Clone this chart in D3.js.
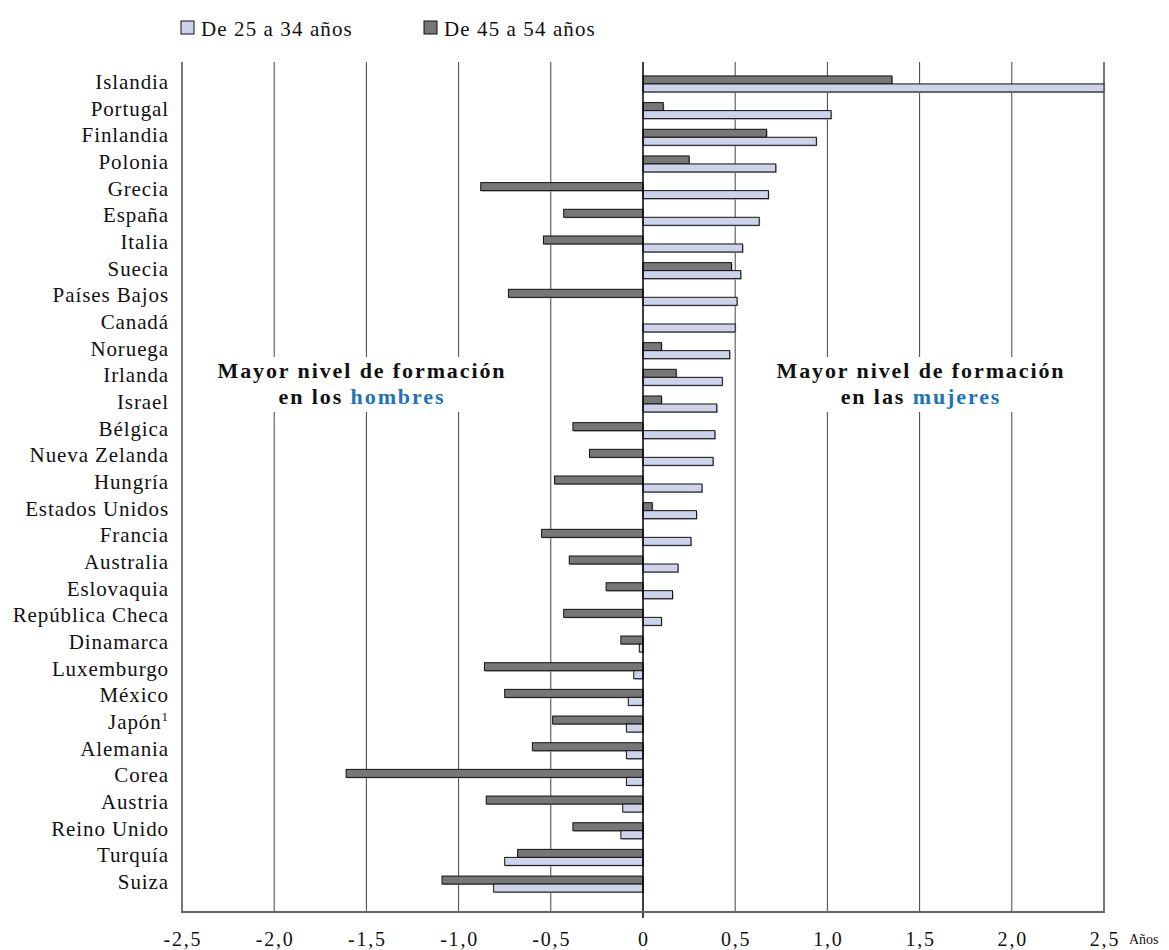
<!DOCTYPE html>
<html><head><meta charset="utf-8">
<script src="https://cdn.jsdelivr.net/npm/d3@7"></script>
<style>body{margin:0;background:#fff} text{font-family:"Liberation Serif","Times New Roman","DejaVu Serif",serif}</style>
</head><body>
<svg id="chart" width="1169" height="950"></svg>
<script>
const categories = ["Islandia","Portugal","Finlandia","Polonia","Grecia","España","Italia","Suecia","Países Bajos","Canadá","Noruega","Irlanda","Israel","Bélgica","Nueva Zelanda","Hungría","Estados Unidos","Francia","Australia","Eslovaquia","República Checa","Dinamarca","Luxemburgo","México","Japón¹","Alemania","Corea","Austria","Reino Unido","Turquía","Suiza"];
const young = [2.5,1.02,0.94,0.72,0.68,0.63,0.54,0.53,0.51,0.50,0.47,0.43,0.40,0.39,0.38,0.32,0.29,0.26,0.19,0.16,0.10,-0.02,-0.05,-0.08,-0.09,-0.09,-0.09,-0.11,-0.12,-0.75,-0.81];
const older = [1.35,0.11,0.67,0.25,-0.88,-0.43,-0.54,0.48,-0.73,0,0.10,0.18,0.10,-0.38,-0.29,-0.48,0.05,-0.55,-0.40,-0.20,-0.43,-0.12,-0.86,-0.75,-0.49,-0.60,-1.61,-0.85,-0.38,-0.68,-1.09];
const ticks = [-2.5,-2,-1.5,-1,-0.5,0,0.5,1,1.5,2,2.5];
const tickLabels = ["-2,5","-2,0","-1,5","-1,0","-0,5","0","0,5","1,0","1,5","2,0","2,5"];
const seriesNames = ["De 25 a 34 años","De 45 a 54 años"];

(function(){
const svg = d3.select("#chart");
const x = d3.scaleLinear().domain([-2.5,2.5]).range([182,1104]);
const y = d3.scaleBand().domain(categories).range([70.6,897.4]);
const plotTop = 62, plotBottom = 912;
const light = "#cdd3ea", dark = "#777777";

// gridlines
svg.append("g").selectAll("line").data(ticks.filter(t=>t!==0)).join("line")
  .attr("x1",d=>x(d)).attr("x2",d=>x(d)).attr("y1",plotTop).attr("y2",plotBottom)
  .attr("stroke",d=>(d===-2.5||d===2.5)?"#777":"#444").attr("stroke-width",d=>(d===-2.5||d===2.5)?2:1);

// annotations with white background
function annot(cx, word){
  const g = svg.append("g");
  g.append("rect").attr("x",cx-150).attr("y",357).attr("width",300).attr("height",55).attr("fill","#fff");
  g.append("text").attr("x",cx+1).attr("y",378).attr("text-anchor","middle")
    .attr("font-weight","bold").attr("font-size",22).attr("letter-spacing",1.9).attr("fill","#111").text("Mayor nivel de formación");
  const t2 = g.append("text").attr("x",cx+1).attr("y",404).attr("text-anchor","middle")
    .attr("font-weight","bold").attr("font-size",22).attr("letter-spacing",1.9).attr("fill","#111");
  t2.append("tspan").text(word[0]);
  t2.append("tspan").attr("fill","#1f73b7").text(word[1]);
}
annot(361, ["en los ","hombres"]);
annot(920, ["en las ","mujeres"]);

// bars
const bh = 8;
const gb = svg.append("g");
function bars(vals, color, off){
  const data = categories.map((c,i)=>({c, v: vals[i]})).filter(d=>d.v!==0);
  gb.append("g").selectAll("rect").data(data).join("rect")
    .attr("x",d=>Math.min(x(0),x(d.v))+1).attr("y",d=>y(d.c)+y.bandwidth()/2+off+1)
    .attr("width",d=>Math.abs(x(d.v)-x(0))).attr("height",bh)
    .attr("fill","#aaa");
  gb.append("g").selectAll("rect").data(data).join("rect")
    .attr("x",d=>Math.min(x(0),x(d.v))).attr("y",d=>y(d.c)+y.bandwidth()/2+off)
    .attr("width",d=>Math.abs(x(d.v)-x(0))).attr("height",bh)
    .attr("fill",color).attr("stroke","#111").attr("stroke-width",1);
}
bars(older, dark, -bh);
bars(young, light, 0);

// zero line
svg.append("line").attr("x1",x(0)).attr("x2",x(0)).attr("y1",plotTop).attr("y2",plotBottom+6)
  .attr("stroke","#000").attr("stroke-width",1.5);
// bottom axis line
svg.append("line").attr("x1",x(-2.5)-1).attr("x2",x(2.5)+1).attr("y1",plotBottom).attr("y2",plotBottom)
  .attr("stroke","#666").attr("stroke-width",2);

// category labels
svg.append("g").selectAll("text").data(categories).join("text")
  .attr("x",169).attr("y",d=>y(d)+y.bandwidth()/2+5)
  .attr("text-anchor","end").attr("font-size",21).attr("letter-spacing",0.9).attr("fill","#111")
  .each(function(d){
    const t = d3.select(this);
    if (d.endsWith("¹")) {
      t.append("tspan").text(d.slice(0,-1));
      t.append("tspan").attr("font-size",13).attr("dy",-8).text("1");
    } else t.text(d);
  });

// tick labels
svg.append("g").selectAll("text").data(ticks).join("text")
  .attr("x",d=>x(d)+1).attr("y",946).attr("text-anchor","middle")
  .attr("font-size",20).attr("letter-spacing",1.8).attr("fill","#111")
  .text((d,i)=>tickLabels[i]);
svg.append("text").attr("x",1129).attr("y",944).attr("font-size",14).attr("fill","#111").text("Años");

// legend
const lg = svg.append("g");
[[181,light,seriesNames[0]],[424,dark,seriesNames[1]]].forEach(([lx,c,t])=>{
  lg.append("rect").attr("x",lx).attr("y",21).attr("width",13).attr("height",13).attr("fill",c).attr("stroke","#111");
  lg.append("text").attr("x",lx+20).attr("y",36).attr("font-size",21).attr("letter-spacing",1.1).attr("fill","#111").text(t);
});
})();
</script>
</body></html>
